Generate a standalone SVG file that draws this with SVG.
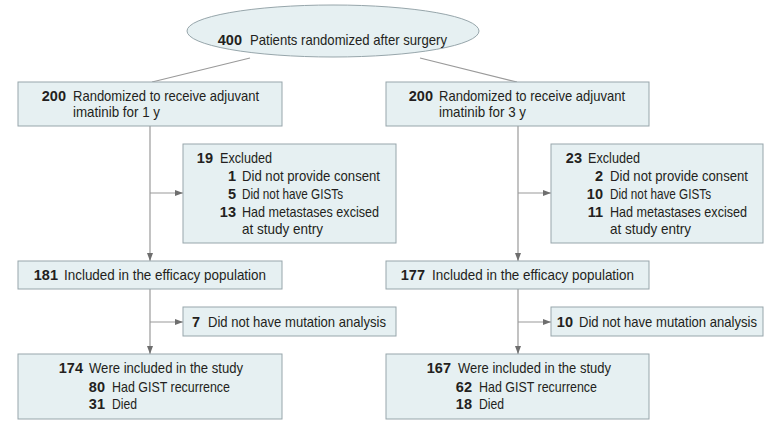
<svg xmlns="http://www.w3.org/2000/svg" width="783" height="432" viewBox="0 0 783 432">
<defs>
<marker id="ah" viewBox="0 0 8 6" refX="8" refY="3" markerWidth="8" markerHeight="6" markerUnits="userSpaceOnUse" orient="auto">
<path d="M0,0 L8,3 L0,6 Z" fill="#6e6e6e"/>
</marker>
</defs>
<style>
.box{fill:#e6f0f2;stroke:#97a6ab;stroke-width:1}
.t{font-family:"Liberation Sans",Arial,sans-serif;font-size:14.5px;fill:#231f20}
.n{font-weight:bold;text-anchor:end}
.ln{fill:none;stroke:#9a9a9a;stroke-width:1.2}
.ar{fill:none;stroke:#9a9a9a;stroke-width:1.2;marker-end:url(#ah)}
</style>
<rect width="783" height="432" fill="#ffffff"/>
<g id="connectors">
<line class="ln" x1="250" y1="58" x2="152" y2="82"/>
<line class="ln" x1="420" y1="58" x2="517" y2="82"/>
<line class="ar" x1="150" y1="126" x2="150" y2="261"/>
<line class="ar" x1="150" y1="193" x2="183" y2="193"/>
<line class="ar" x1="150" y1="289" x2="150" y2="354"/>
<line class="ar" x1="150" y1="322" x2="183" y2="322"/>
<line class="ar" x1="518" y1="126" x2="518" y2="261"/>
<line class="ar" x1="518" y1="193" x2="551" y2="193"/>
<line class="ar" x1="518" y1="289" x2="518" y2="354"/>
<line class="ar" x1="518" y1="322" x2="551" y2="322"/>
</g>
<g id="start">
<ellipse class="box" cx="333" cy="31" rx="146" ry="26"/>
<text class="t n" x="242" y="45">400</text>
<text class="t" x="250" y="45" textLength="197" lengthAdjust="spacingAndGlyphs">Patients randomized after surgery</text>
</g>
<g id="arm1">
<rect class="box" x="18" y="82" width="264" height="44"/>
<text class="t n" x="66" y="101">200</text>
<text class="t" x="73" y="101" textLength="186" lengthAdjust="spacingAndGlyphs">Randomized to receive adjuvant</text>
<text class="t" x="73" y="117" textLength="87" lengthAdjust="spacingAndGlyphs">imatinib for 1 y</text>
</g>
<g id="arm3">
<rect class="box" x="386" y="82" width="263" height="44"/>
<text class="t n" x="433" y="101">200</text>
<text class="t" x="439" y="101" textLength="186" lengthAdjust="spacingAndGlyphs">Randomized to receive adjuvant</text>
<text class="t" x="439" y="117" textLength="87" lengthAdjust="spacingAndGlyphs">imatinib for 3 y</text>
</g>
<g id="excl1">
<rect class="box" x="183" y="144" width="213" height="99"/>
<text class="t n" x="213" y="163">19</text>
<text class="t" x="220" y="163" textLength="52" lengthAdjust="spacingAndGlyphs">Excluded</text>
<text class="t n" x="236" y="181">1</text>
<text class="t" x="242" y="181" textLength="138" lengthAdjust="spacingAndGlyphs">Did not provide consent</text>
<text class="t n" x="236" y="199">5</text>
<text class="t" x="242" y="199" textLength="101" lengthAdjust="spacingAndGlyphs">Did not have GISTs</text>
<text class="t n" x="236" y="216.5">13</text>
<text class="t" x="242" y="216.5" textLength="137" lengthAdjust="spacingAndGlyphs">Had metastases excised</text>
<text class="t" x="242" y="233.5" textLength="81" lengthAdjust="spacingAndGlyphs">at study entry</text>
</g>
<g id="excl3">
<rect class="box" x="551" y="144" width="212" height="99"/>
<text class="t n" x="582" y="163">23</text>
<text class="t" x="588" y="163" textLength="52" lengthAdjust="spacingAndGlyphs">Excluded</text>
<text class="t n" x="603" y="181">2</text>
<text class="t" x="610" y="181" textLength="138" lengthAdjust="spacingAndGlyphs">Did not provide consent</text>
<text class="t n" x="603" y="199">10</text>
<text class="t" x="610" y="199" textLength="101" lengthAdjust="spacingAndGlyphs">Did not have GISTs</text>
<text class="t n" x="603" y="216.5">11</text>
<text class="t" x="610" y="216.5" textLength="137" lengthAdjust="spacingAndGlyphs">Had metastases excised</text>
<text class="t" x="610" y="233.5" textLength="81" lengthAdjust="spacingAndGlyphs">at study entry</text>
</g>
<g id="eff1">
<rect class="box" x="18" y="261" width="264" height="28"/>
<text class="t n" x="58" y="280">181</text>
<text class="t" x="64" y="280" textLength="202" lengthAdjust="spacingAndGlyphs">Included in the efficacy population</text>
</g>
<g id="eff3">
<rect class="box" x="386" y="261" width="263" height="28"/>
<text class="t n" x="425" y="280">177</text>
<text class="t" x="432" y="280" textLength="202" lengthAdjust="spacingAndGlyphs">Included in the efficacy population</text>
</g>
<g id="mut1">
<rect class="box" x="183" y="307" width="213" height="29"/>
<text class="t n" x="200" y="326.5">7</text>
<text class="t" x="208" y="326.5" textLength="178" lengthAdjust="spacingAndGlyphs">Did not have mutation analysis</text>
</g>
<g id="mut3">
<rect class="box" x="551" y="307" width="212" height="29"/>
<text class="t n" x="573" y="326.5">10</text>
<text class="t" x="579" y="326.5" textLength="178" lengthAdjust="spacingAndGlyphs">Did not have mutation analysis</text>
</g>
<g id="study1">
<rect class="box" x="18" y="354" width="264" height="65"/>
<text class="t n" x="83" y="373">174</text>
<text class="t" x="89" y="373" textLength="154" lengthAdjust="spacingAndGlyphs">Were included in the study</text>
<text class="t n" x="105" y="391.5">80</text>
<text class="t" x="112" y="391.5" textLength="118" lengthAdjust="spacingAndGlyphs">Had GIST recurrence</text>
<text class="t n" x="105" y="409">31</text>
<text class="t" x="112" y="409" textLength="25" lengthAdjust="spacingAndGlyphs">Died</text>
</g>
<g id="study3">
<rect class="box" x="386" y="354" width="263" height="65"/>
<text class="t n" x="451" y="373">167</text>
<text class="t" x="458" y="373" textLength="153" lengthAdjust="spacingAndGlyphs">Were included in the study</text>
<text class="t n" x="472" y="391.5">62</text>
<text class="t" x="479" y="391.5" textLength="118" lengthAdjust="spacingAndGlyphs">Had GIST recurrence</text>
<text class="t n" x="472" y="409">18</text>
<text class="t" x="479" y="409" textLength="25" lengthAdjust="spacingAndGlyphs">Died</text>
</g>
</svg>
